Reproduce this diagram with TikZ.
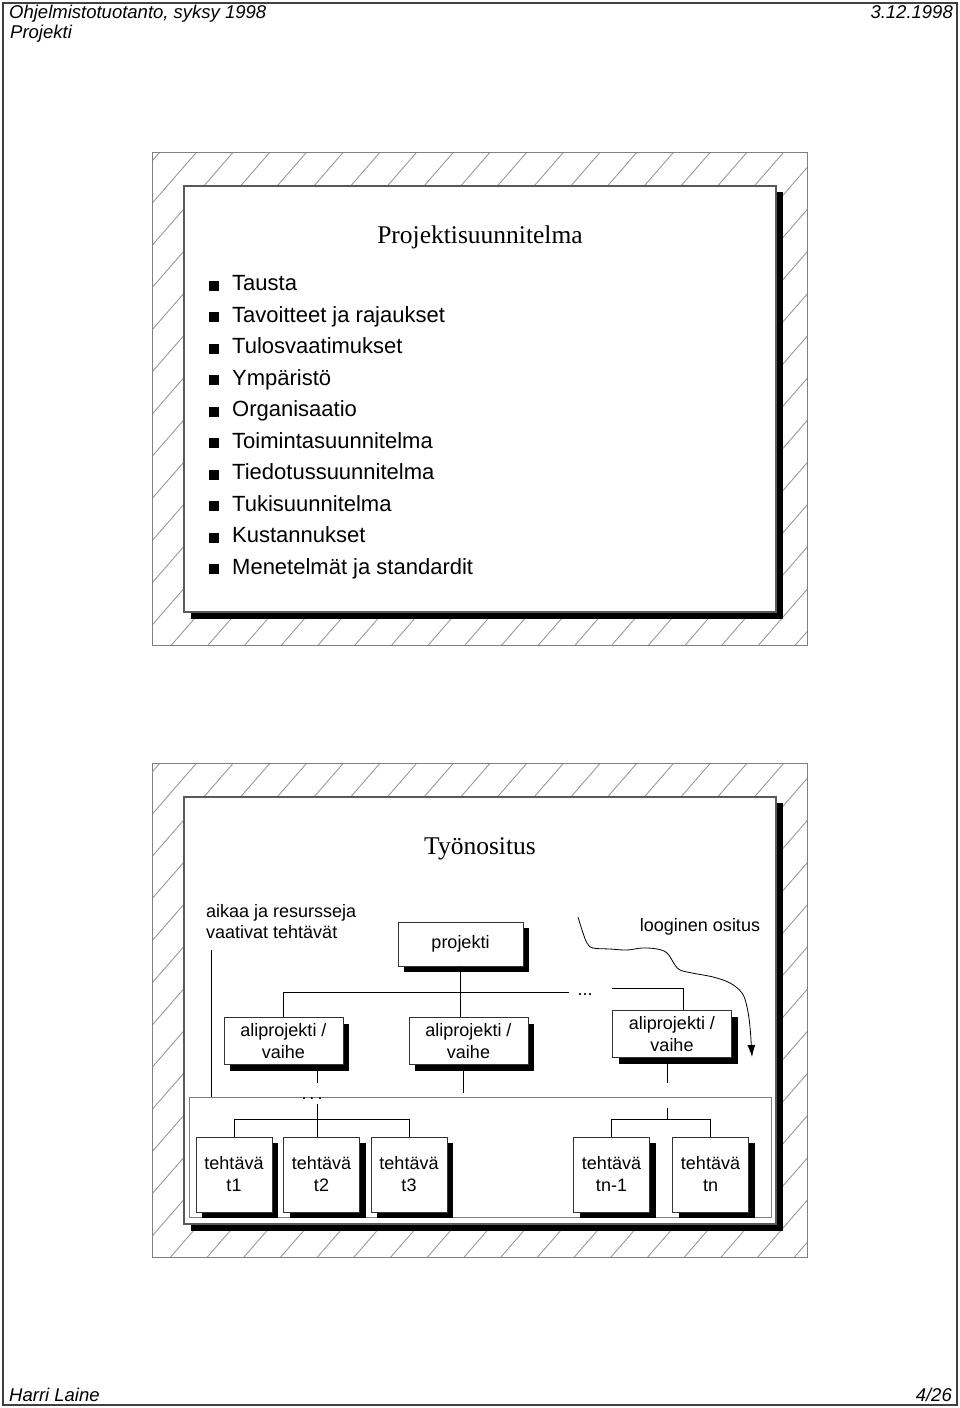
\documentclass[tikz,border=0pt]{standalone}
\usepackage{fontspec}
\setmainfont{Liberation Sans}
\newfontfamily\serifttl{Liberation Serif}
\usetikzlibrary{shadows,arrows.meta}

\begin{document}
\begin{tikzpicture}[
    x			= 1pt,
    y			= -1pt,
    >={Latex[length=12pt,width=8pt]},
    hdr/.style		= {inner sep=0pt, font=\itshape\fontsize{18.5}{22}\selectfont},
    frame/.style	= {draw=black!50, line width=1pt},
    hatch/.style	= {draw=black!40, line width=0.9pt},
    slide/.style	= {draw=black!65, fill=white, line width=1.2pt},
    heading/.style	= {font=\serifttl\fontsize{25.5}{30}\selectfont},
    item/.style		= {anchor=base west, inner sep=0pt, font=\fontsize{22}{26}\selectfont},
    small/.style	= {inner sep=0pt, font=\fontsize{18}{21}\selectfont},
    box/.style		= {inner sep=0pt, font=\fontsize{18}{22}\selectfont, draw=black!80, fill=white,
                           line width=0.8pt, align=center,
                           drop shadow={shadow xshift=6pt, shadow yshift=-6pt, opacity=1, fill=black}},
    ali/.style		= {box, minimum width=119pt, minimum height=47pt},
    task/.style		= {box, minimum width=76pt, minimum height=75pt},
    link/.style		= {line width=0.8pt}
  ]
\useasboundingbox (0,0) rectangle (960,1408);
% page frame and running texts
\draw[line width=2pt, draw=black!75] (3,3) rectangle (957,1405);
\node[hdr, anchor=base west] (course) at (9,18.5) {Ohjelmistotuotanto, syksy 1998};
\node[hdr, anchor=base west] (topic) at (10,38.5) {Projekti};
\node[hdr, anchor=base east] (date) at (953,18.5) {3.12.1998};
\node[hdr, anchor=base west] (author) at (9,1401) {Harri Laine};
\node[hdr, anchor=base east] (page) at (952,1401) {4/26};
% two hatched slide frames
\foreach \ya/\yb in {152/645, 763/1257} {
  \begin{scope}
    \clip (152,\ya) rectangle (807,\yb);
    \foreach \k in {-2,...,29}
      \draw[hatch] ({196.7+36.7*\k},\ya) -- ++(-435,500);
  \end{scope}
  \draw[frame] (152,\ya) rectangle (807,\yb);
  \fill (191,{\ya+40}) rectangle (783,{\yb-26});
  \draw[slide] (184,{\ya+34}) rectangle (776,{\yb-33});
}
% upper slide
\node[heading] (ttl1) at (480,237) {Projektisuunnitelma};
\foreach \t [count=\i] in {Tausta, Tavoitteet ja rajaukset, Tulosvaatimukset, Ympäristö,
    Organisaatio, Toimintasuunnitelma, Tiedotussuunnitelma, Tukisuunnitelma,
    Kustannukset, Menetelmät ja standardit} {
  \node[item] (b\i) at (232,{290.7+31.5*(\i-1)}) {\t};
  \fill (208.5,{290.7+31.5*(\i-1)}) rectangle ++(10.5,-10);
}
% lower slide
\node[heading] (ttl2) at (480,849) {Työnositus};
\node[small, align=left, anchor=west] (aikaa) at (206,921.5) {aikaa ja resursseja\\vaativat tehtävät};
\node[small] (logi) at (700,927) {looginen ositus};
\node[draw=black!50, line width=0.8pt, minimum width=582pt, minimum height=120pt, inner sep=0pt] (tasks) at (480,1157) {};
% boxes
\node[box, minimum width=125pt, minimum height=44pt] (prj) at (460.5,944) {projekti};
\node[ali] (ali1) at (283.5,1041) {aliprojekti /\\vaihe};
\node[ali] (ali2) at (468.5,1041) {aliprojekti /\\vaihe};
\node[ali] (ali3) at (672,1034) {aliprojekti /\\vaihe};
\node[task] (t1) at (234,1174.5) {tehtävä\\t1};
\node[task] (t2) at (321.5,1174.5) {tehtävä\\t2};
\node[task] (t3) at (409,1174.5) {tehtävä\\t3};
\node[task] (tn1) at (611.5,1174.5) {tehtävä\\tn-1};
\node[task] (tn) at (710.5,1174.5) {tehtävä\\tn};
% dots
\node[small, anchor=base] (dotsA) at (585,995) {...};
\node[small, anchor=base] (dotsB) at (312,1099) {.\,.\,.};
% tree lines
\coordinate (busL) at (283.5,992);
\coordinate (busM) at (569,992);
\coordinate (busR) at (612,988);
\coordinate (busE) at (683,988);
\draw[link] (ali1.north) -- (busL) -- (busM);
\draw[link] (busR) -- (busE) -- (busE |- ali3.north);
\draw[link] (prj.south) -- (prj.south |- ali2.north);
\coordinate (aTop) at (211,950);
\draw[link] (aTop) -- (aTop |- tasks.north);
\coordinate (s1) at (317,1083);
\coordinate (s2) at (317,1104);
\coordinate (s3) at (463,1093);
\coordinate (s4) at (667,1083);
\coordinate (s5) at (667,1108);
\coordinate (jT) at (317,1119);
\coordinate (jR) at (667,1119);
\draw[link] (ali1.south -| s1) -- (s1);
\draw[link] (ali2.south -| s3) -- (s3);
\draw[link] (ali3.south -| s4) -- (s4);
\draw[link] (s2) -- (s2 |- t2.north);
\draw[link] (t1.north) |- (jT) -| (t3.north);
\draw[link] (s5) -- (jR);
\draw[link] (tn1.north) |- (jR) -| (tn.north);
% wavy arrow
\coordinate (wA) at (578,917);
\coordinate (wB) at (752,1057);
\draw[link, ->] plot[smooth, tension=0.6] coordinates {(wA) (583,933) (587,943) (593,948) (610,949)
    (627,950) (642,948) (657,949) (667,953) (675,965) (680,970) (692,973) (713,977) (730,983)
    (742,993) (747,1007) (750,1027) (wB)};
%
\end{tikzpicture}
\end{document}
